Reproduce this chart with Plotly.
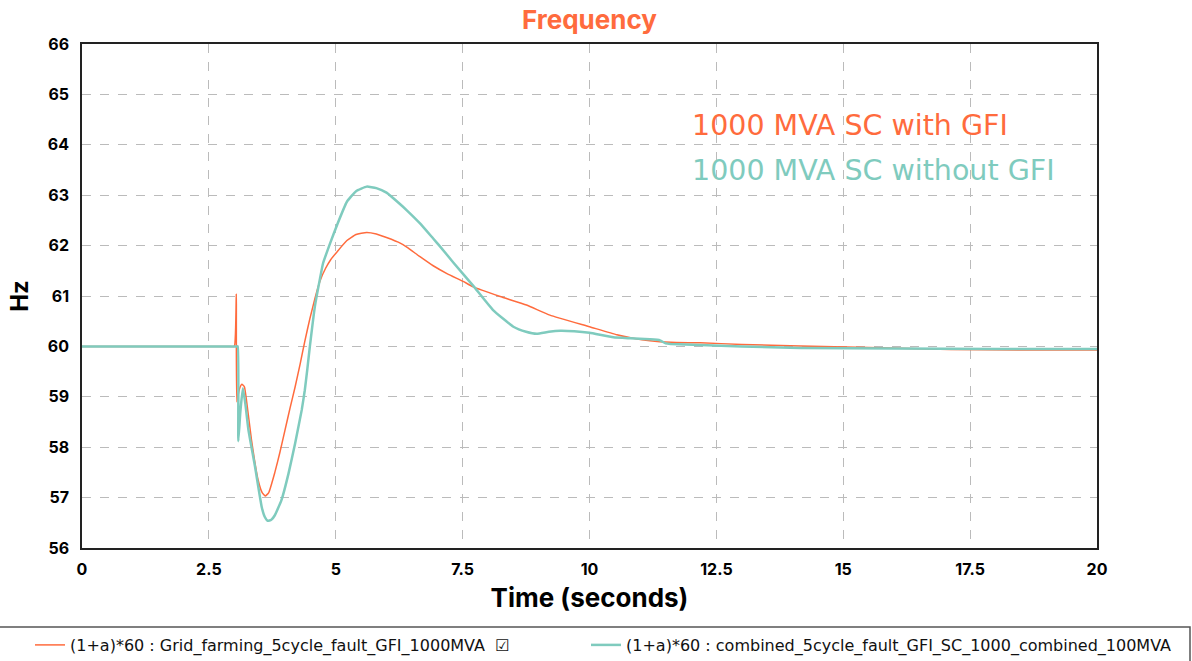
import plotly.graph_objects as go

# ---- data ----
t_gfi = [0, 1.0, 2.0, 2.9, 3.0, 3.04, 3.05, 3.1, 3.15, 3.2, 3.24, 3.34, 3.47, 3.55, 3.61, 3.68, 3.8, 3.9, 4.0,
         4.1, 4.2, 4.3, 4.39, 4.49, 4.59, 4.69, 4.8, 4.9, 5.02, 5.22, 5.4, 5.61, 5.8, 6.0, 6.27,
         6.4, 6.66, 6.92, 7.2, 7.51, 7.71, 8.24, 8.76, 9.22, 10.0, 10.54, 10.86, 11.19, 11.6,
         12.18, 13.0, 14.15, 15.5, 17.1, 18.5, 20]
f_gfi = [60, 60, 60, 60, 60, 61.04, 58.9, 59.15, 59.25, 59.2, 58.94, 58.14, 57.35, 57.1, 57.03, 57.1, 57.5, 57.9, 58.34,
         58.78, 59.2, 59.66, 60.1, 60.55, 60.95, 61.3, 61.55, 61.72, 61.87, 62.1, 62.22, 62.26, 62.23, 62.16, 62.05,
         61.97, 61.78, 61.6, 61.44, 61.29, 61.18, 60.99, 60.82, 60.62, 60.39, 60.23, 60.16, 60.11, 60.08,
         60.07, 60.04, 60.01, 59.98, 59.94, 59.93, 59.93]

t_nogfi = [0, 1.0, 2.0, 2.9, 3.0, 3.05, 3.07, 3.08, 3.12, 3.17, 3.22, 3.28, 3.41, 3.54, 3.6, 3.66, 3.73, 3.8, 3.93, 4.07, 4.2,
           4.33, 4.39, 4.44, 4.49, 4.59, 4.69, 4.75, 4.89, 5.03, 5.22, 5.4, 5.61, 5.8, 6.0, 6.27, 6.4,
           6.66, 6.92, 7.05, 7.32, 7.71, 8.1, 8.5, 8.75, 8.96, 9.2, 9.42, 9.7, 10.0, 10.47, 10.8,
           11.19, 11.39, 11.5, 11.6, 12.18, 13.0, 14.15, 16.0, 18.0, 20]
f_nogfi = [60, 60, 60, 60, 60, 60, 60, 58.12, 58.7, 59.17, 58.85, 58.34, 57.61, 56.82, 56.62, 56.54, 56.56, 56.65, 56.95, 57.48, 58.08,
           58.74, 59.13, 59.55, 60.0, 60.8, 61.35, 61.65, 62.05, 62.42, 62.87, 63.08, 63.17, 63.14, 63.05, 62.82, 62.7,
           62.44, 62.14, 61.99, 61.66, 61.2, 60.72, 60.39, 60.29, 60.25, 60.29, 60.31, 60.3, 60.27, 60.18, 60.16,
           60.14, 60.12, 60.06, 60.05, 60.03, 60.0, 59.97, 59.96, 59.95, 59.95]

name_gfi = "(1+a)*60 : Grid_farming_5cycle_fault_GFI_1000MVA  \u2611"
name_nogfi = "(1+a)*60 : combined_5cycle_fault_GFI_SC_1000_combined_100MVA"
x_ticks = [0, 2.5, 5, 7.5, 10, 12.5, 15, 17.5, 20]
x_tick_labels = ["0", "2.5", "5", "7.5", "10", "12.5", "15", "17.5", "20"]
y_ticks = [56, 57, 58, 59, 60, 61, 62, 63, 64, 65, 66]

ORANGE = "#FF6B3D"
TEAL = "#7FCBBE"
FONT = "Inter"
WIDE = "DejaVu Sans"

L, R, T, B = 82, 95, 44, 113
W, H = 1192, 661
pw, ph = W - L - R, H - T - B

fig = go.Figure()
fig.add_trace(go.Scatter(x=t_gfi, y=f_gfi, mode="lines", name=name_gfi, legend="legend",
                         line=dict(color=ORANGE, width=1.5, shape="spline", smoothing=0.4)))
fig.add_trace(go.Scatter(x=t_nogfi, y=f_nogfi, mode="lines", name=name_nogfi, legend="legend2",
                         line=dict(color=TEAL, width=2.5, shape="spline", smoothing=0.4)))

legend_common = dict(orientation="h", xref="container", yref="container",
                     xanchor="left", y=1 - 645 / H, yanchor="middle",
                     font=dict(family=WIDE, size=16, color="#111111"),
                     bgcolor="rgba(0,0,0,0)", borderwidth=0, itemwidth=30)

fig.update_layout(
    width=W, height=H,
    margin=dict(l=L, r=R, t=T, b=B, autoexpand=False),
    paper_bgcolor="white", plot_bgcolor="white",
    title=dict(text="Frequency", x=(L + W - R) / 2 / W, xanchor="center",
               y=1 - 20 / H, yanchor="middle",
               font=dict(family=FONT, size=26, color=ORANGE, weight="bold")),
    font=dict(family=FONT, color="black"),
    showlegend=True,
    legend=dict(x=30 / W, **legend_common),
    legend2=dict(x=586 / W, **legend_common),
    annotations=[
        dict(text="1000 MVA SC with GFI", x=(690 - L) / pw, y=(548 - 126) / ph, xref="paper", yref="paper",
             xanchor="left", yanchor="middle", showarrow=False,
             font=dict(family=WIDE, size=28.5, color=ORANGE)),
        dict(text="1000 MVA SC without GFI", x=(690 - L) / pw, y=(548 - 170) / ph, xref="paper", yref="paper",
             xanchor="left", yanchor="middle", showarrow=False,
             font=dict(family=WIDE, size=28.5, color=TEAL)),
    ],
)

fig.add_shape(type="rect", xref="paper", yref="paper",
              x0=(-2 - L) / pw, x1=(1190 - L) / pw, y0=(548 - 627) / ph, y1=(548 - 700) / ph,
              line=dict(color="#555555", width=1.5), fillcolor="rgba(0,0,0,0)", layer="below")

fig.update_xaxes(range=[0, 20], tickvals=x_ticks, ticktext=x_tick_labels, automargin=False,
                 showgrid=True, gridcolor="#BBBBBB", griddash="dash", gridwidth=1,
                 showline=True, linecolor="#222222", linewidth=1.5, mirror=True,
                 ticks="outside", ticklen=6, tickcolor="rgba(0,0,0,0)", zeroline=False,
                 tickfont=dict(family=FONT, size=16, color="black", weight="bold"),
                 title=dict(text="Time (seconds)", font=dict(family=FONT, size=26, color="black", weight="bold"),
                            standoff=11))
fig.update_yaxes(range=[56, 66], tickvals=y_ticks, automargin=False,
                 showgrid=True, gridcolor="#BBBBBB", griddash="dash", gridwidth=1,
                 showline=True, linecolor="#222222", linewidth=1.5, mirror=True,
                 ticks="outside", ticklen=8, tickcolor="rgba(0,0,0,0)", zeroline=False,
                 tickfont=dict(family=FONT, size=16, color="black", weight="bold"),
                 title=dict(text="Hz", font=dict(family=FONT, size=24, color="black", weight="bold"),
                            standoff=12))

fig.write_html("out.html", config={"displayModeBar": False},
               post_script="document.body.style.margin='0';")
